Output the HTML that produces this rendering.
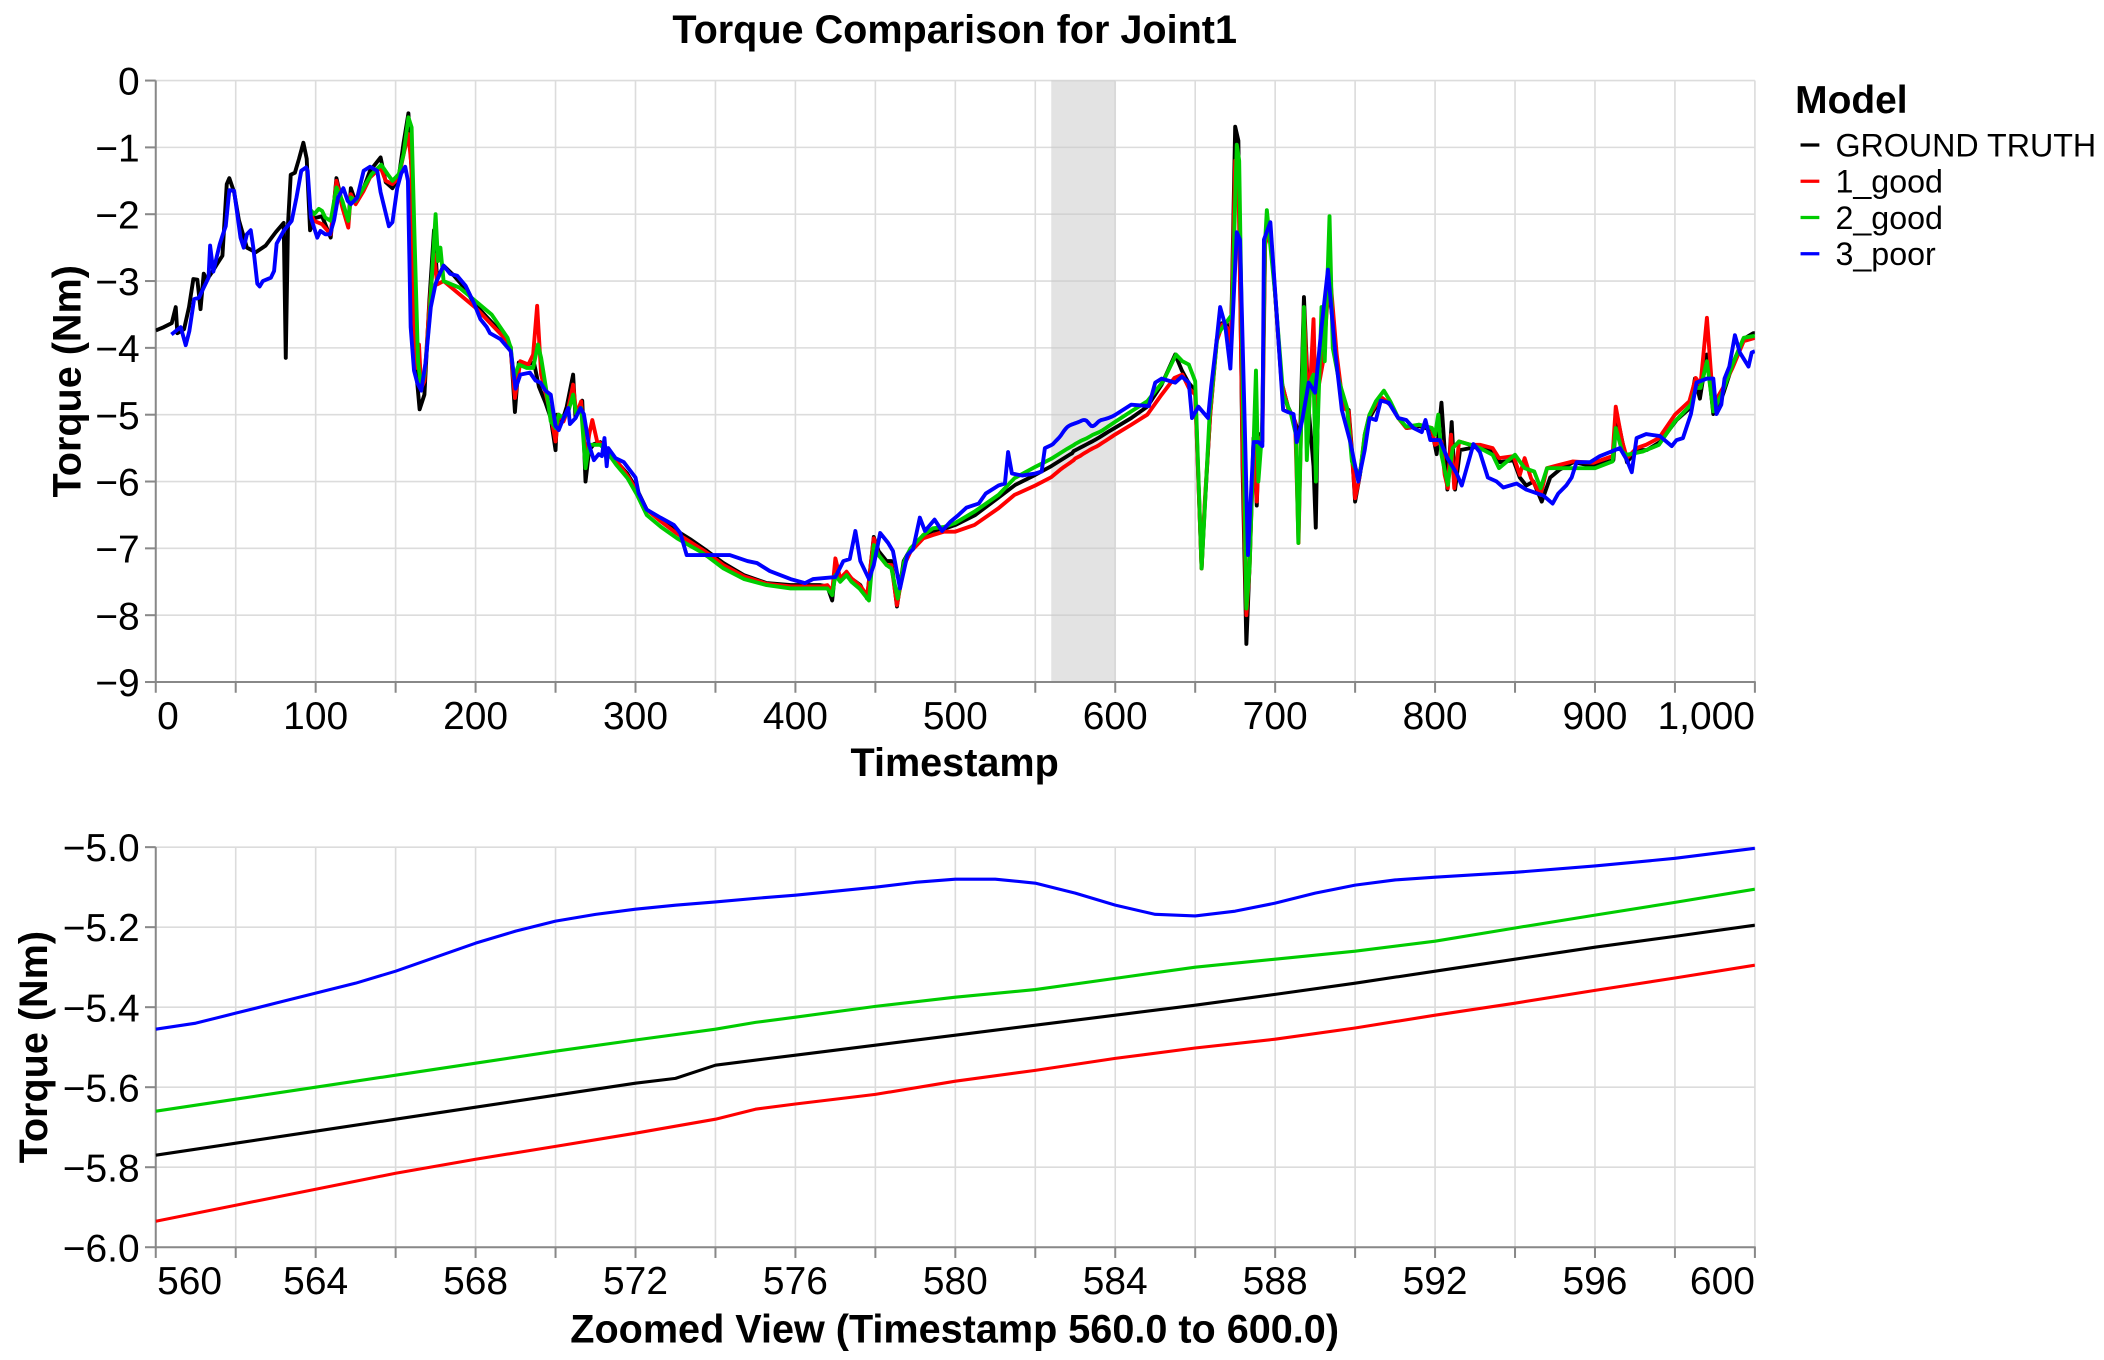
<!DOCTYPE html>
<html>
<head>
<meta charset="utf-8">
<style>
html,body{margin:0;padding:0;background:#fff;}
svg{display:block;font-family:"Liberation Sans",Arial,sans-serif;}
</style>
</head>
<body>
<svg id="chart" width="2104" height="1360" viewBox="0 0 1567 1013" preserveAspectRatio="none" xmlns="http://www.w3.org/2000/svg">
  <rect x="0" y="0" width="1567" height="1013" fill="#fff"/>
  <text x="711" y="32" text-anchor="middle" font-size="29.5" font-weight="bold">Torque Comparison for Joint1</text>
  <g id="main"></g>
  <g id="zoom"></g>
  <text x="711" y="578" text-anchor="middle" font-size="29.5" font-weight="bold">Timestamp</text>
  <text transform="translate(60,284) rotate(-90)" text-anchor="middle" font-size="29.5" font-weight="bold">Torque (Nm)</text>
  <text x="711" y="1000" text-anchor="middle" font-size="29.5" font-weight="bold">Zoomed View (Timestamp 560.0 to 600.0)</text>
  <text transform="translate(35,780) rotate(-90)" text-anchor="middle" font-size="29.5" font-weight="bold">Torque (Nm)</text>
  <g>
    <text x="1337" y="84" font-size="29" font-weight="bold">Model</text>
    <line x1="1341" y1="108" x2="1355" y2="108" stroke="#000" stroke-width="2.5"/>
    <text x="1367" y="116.5" font-size="24">GROUND TRUTH</text>
    <line x1="1341" y1="135" x2="1355" y2="135" stroke="#ff0000" stroke-width="2.5"/>
    <text x="1367" y="143.5" font-size="24">1_good</text>
    <line x1="1341" y1="162" x2="1355" y2="162" stroke="#00cc00" stroke-width="2.5"/>
    <text x="1367" y="170.5" font-size="24">2_good</text>
    <line x1="1341" y1="189" x2="1355" y2="189" stroke="#0000ff" stroke-width="2.5"/>
    <text x="1367" y="197.5" font-size="24">3_poor</text>
  </g>
</svg>
<script>
const seriesNames = ["GROUND TRUTH", "1_good", "2_good", "3_poor"];
const xTickLabelsMain = ["0","100","200","300","400","500","600","700","800","900","1,000"];
const yTickLabelsMain = ["0","\u22121","\u22122","\u22123","\u22124","\u22125","\u22126","\u22127","\u22128","\u22129"];
const xTickLabelsZoom = ["560","564","568","572","576","580","584","588","592","596","600"];
const yTickLabelsZoom = ["\u22125.0","\u22125.2","\u22125.4","\u22125.6","\u22125.8","\u22126.0"];
const highlightRange = [560, 600];

const gtT = [0,5,10,12.5,13.5,17.7,20.8,23.5,26,28,30,32,35.4,38.5,41.7,44.4,46,49,52,57,62.5,68.7,75,80,81.3,82.7,84.4,87,89.6,92.3,94.4,96.5,99,104,109.4,113,116.7,120.4,122,125,130,134,140.6,143.8,148,152,155,158,160,161.5,163.5,165,168,171,174,176,180,186.5,193,199,207,217.7,222,224.6,227,232,236.5,239.6,243.7,247,250,251,254,257,261,262.5,266.7,268.75,271,274,278,282,288.5,294.8,301,307,315.6,326,334,344.8,355,367.7,382,397,415.6,420,423,425,428,432,435.4,440.6,444.8,449,452,457,460,463.5,467.7,472,476,480,486,492.7,500,512.5,527,537.5,550,
560,562,564,566,568,570,572,573,574,576,578,580,582,584,586,588,590,592,594,596,598,600,
610,620,629,637.5,641.7,645.8,650,654,656,659.4,663.5,666.7,669.8,672,673,675,677,679.6,682,684,686.5,688.5,690,691.7,693.75,697,700,704,708,712.5,715.6,718,721,724,725.4,727,730,733,735,738.5,742.7,746,748,750,753,756,759,763,767,772,777,782.3,790,798,801,804,806,807.7,810.4,812.5,815.6,822,828,836.5,840.6,849,853,857,861.5,866.7,872,878,886.5,899,911.5,913.5,917.7,920,926,932.3,940.6,951,959.4,962.5,965.6,970,974,980,986.5,992.7,999,1000];
const gtV = [-3.74,-3.69,-3.63,-3.39,-3.78,-3.72,-3.39,-2.97,-2.98,-3.42,-2.89,-2.98,-2.86,-2.74,-2.62,-1.55,-1.46,-1.67,-2.09,-2.5,-2.57,-2.47,-2.27,-2.13,-4.15,-2.15,-1.41,-1.38,-1.17,-0.93,-1.17,-2.24,-2.06,-2.03,-2.35,-1.46,-1.85,-2.15,-1.61,-1.82,-1.61,-1.35,-1.15,-1.52,-1.61,-1.44,-0.93,-0.49,-1.38,-3.69,-4.52,-4.92,-4.7,-3.33,-2.24,-2.98,-2.77,-2.92,-3.1,-3.33,-3.54,-3.81,-3.99,-4.96,-4.22,-4.25,-4.22,-4.58,-4.82,-5.05,-5.53,-5.0,-5.11,-4.88,-4.4,-5.05,-4.79,-6.0,-5.53,-5.44,-5.41,-5.53,-5.71,-5.88,-6.12,-6.42,-6.57,-6.74,-6.86,-7.04,-7.22,-7.4,-7.52,-7.55,-7.55,-7.57,-7.78,-7.31,-7.49,-7.37,-7.46,-7.55,-7.75,-6.83,-7.04,-7.19,-7.19,-7.87,-7.19,-7.01,-6.92,-6.8,-6.74,-6.71,-6.65,-6.5,-6.24,-6.05,-5.9,
-5.77,-5.74,-5.71,-5.68,-5.65,-5.62,-5.59,-5.578,-5.545,-5.52,-5.495,-5.47,-5.445,-5.42,-5.395,-5.368,-5.34,-5.31,-5.28,-5.25,-5.223,-5.195,
-5.05,-4.88,-4.55,-4.1,-4.34,-4.52,-4.64,-7.3,-6.36,-4.99,-3.87,-3.63,-3.63,-4.22,-3.16,-0.69,-0.9,-5.77,-8.43,-7.25,-5.35,-6.36,-5.29,-5.41,-2.38,-2.21,-3.21,-4.52,-4.88,-5.11,-5.35,-3.24,-4.93,-5.77,-6.69,-4.58,-4.05,-3.1,-3.39,-4.22,-4.88,-4.93,-5.53,-6.3,-5.9,-5.35,-5.05,-4.88,-4.76,-4.85,-5.05,-5.2,-5.17,-5.23,-5.59,-4.82,-5.53,-6.12,-5.11,-6.12,-5.53,-5.5,-5.47,-5.56,-5.71,-5.68,-5.94,-6.06,-6.0,-6.3,-5.94,-5.82,-5.71,-5.77,-5.68,-4.99,-5.47,-5.71,-5.53,-5.53,-5.41,-5.08,-4.9,-4.46,-4.76,-4.1,-4.99,-4.7,-4.22,-3.87,-3.78,-3.78];

const r1T = [97,99,104,109.4,113,116.7,120.4,122,125,130,134,140.6,143.8,148,152,155,158,160,161.5,163,164.6,166,168,171,174,176,180,190,200,210,220,222,224.6,228,233,236,238.5,241,244,247,250,252,255,258,261,263,266,268.75,271,273,276,280,284,290,296,301,307,316,326,334,345,355,368,382,397,416,420,423,425,428,432,435,440,445,449,452,457,460,463.5,468,472,476,480,486,493,500,512,527,537,550,
560,562,564,566,568,570,572,574,575,576,578,580,582,584,586,588,590,592,594,596,598,600,
610,620,629,637,642,646,650,654,656,659.4,663.5,667,670,672,673,675,677,679.6,682,684,686.5,688.5,690,692,693.75,697,700,704,708,712.5,714.6,716,718,721,724,726,727,730,733,735,738.5,742.7,746,748,750,753,756,759,763,767,772,777,782,790,798,800,804,806,808,810,812,815,822,828,836,840,849,853,856,860,866,870,878,886,899,911,913,917,920,926,932,940,950,959,963,966,970,974,980,986,993,1000];
const r1V = [-2.0,-2.1,-2.15,-2.3,-1.5,-1.9,-2.2,-1.7,-1.85,-1.65,-1.45,-1.3,-1.5,-1.55,-1.45,-1.1,-0.8,-1.3,-3.5,-4.3,-3.95,-4.6,-4.5,-3.4,-2.6,-3.05,-3.0,-3.2,-3.4,-3.65,-3.9,-4.05,-4.75,-4.2,-4.25,-4.1,-3.37,-4.4,-4.7,-5.0,-5.4,-5.0,-5.1,-4.9,-4.55,-5.0,-4.8,-5.7,-5.3,-5.08,-5.4,-5.45,-5.6,-5.75,-5.95,-6.15,-6.42,-6.6,-6.78,-6.9,-7.07,-7.25,-7.42,-7.53,-7.57,-7.57,-7.55,-7.65,-7.15,-7.45,-7.35,-7.45,-7.55,-7.7,-6.85,-7.1,-7.25,-7.25,-7.85,-7.25,-7.05,-6.95,-6.85,-6.8,-6.75,-6.75,-6.65,-6.4,-6.2,-6.06,
-5.935,-5.895,-5.855,-5.815,-5.78,-5.748,-5.715,-5.68,-5.655,-5.642,-5.618,-5.585,-5.558,-5.528,-5.502,-5.48,-5.452,-5.42,-5.39,-5.358,-5.327,-5.295,
-5.15,-5.0,-4.7,-4.45,-4.4,-4.6,-4.7,-7.3,-6.3,-5.0,-3.9,-3.65,-3.7,-4.2,-3.3,-1.2,-1.4,-5.5,-8.0,-7.3,-5.4,-6.3,-5.35,-5.4,-2.45,-2.2,-3.2,-4.5,-4.9,-5.1,-6.92,-5.4,-3.4,-5.0,-3.57,-5.5,-4.6,-4.2,-3.2,-3.1,-4.1,-4.9,-4.95,-5.6,-6.25,-5.9,-5.3,-5.0,-4.85,-4.75,-4.85,-5.05,-5.2,-5.15,-5.2,-5.45,-5.4,-5.9,-6.1,-5.3,-6.1,-5.4,-5.45,-5.45,-5.5,-5.65,-5.62,-5.9,-5.65,-5.95,-6.2,-5.8,-5.75,-5.7,-5.72,-5.62,-4.88,-5.4,-5.65,-5.5,-5.45,-5.35,-5.0,-4.8,-4.45,-4.55,-3.55,-4.85,-4.6,-4.3,-3.9,-3.85];

const g2T = [97,99,102,104,106,109.4,113,116.7,120.4,122,125,130,135,141,145,148,152,155,158,160,162,164,166,168,171,175,176.5,178,180,190,200,210,220,222,224,227,232,236,239,241,244,247,250,252,255,258,261,263,266,268.75,271,274,278,282,288,295,301,307,316,326,334,340,345,355,368,382,397,416,420,423,425,428,432,435,440,446,449,452,457,460,464,468,472,476,480,486,493,500,512,527,537,550,
560,562,564,566,568,570,572,574,575,576,578,580,582,584,586,588,590,592,594,596,598,600,
610,620,630,638,642,646,650,654,656,659,664,670,673,676,677.5,680,682,684,688,689.5,692,693.5,694.8,700,705,710,713,714.5,716,718,719.8,722,724,725.5,729,731,734,736,740,745,748,750,753,756,759,763,768,772,777,782,790,798,800,802,804,808,811,815,822,828,836,840,850,856,862,866,870,880,900,911,913,917,920,930,940,950,960,963,966,970,974,980,986,993,1000];
const g2V = [-1.94,-2.0,-1.92,-1.95,-2.05,-2.1,-1.6,-1.8,-2.1,-1.75,-1.8,-1.6,-1.4,-1.26,-1.4,-1.5,-1.4,-1.1,-0.55,-0.7,-2.5,-4.2,-4.6,-4.4,-3.6,-2.0,-2.7,-2.5,-3.0,-3.1,-3.3,-3.5,-3.85,-4.0,-4.45,-4.25,-4.3,-4.3,-3.95,-4.15,-4.6,-5.1,-5.2,-5.0,-5.05,-4.95,-4.7,-5.0,-4.9,-5.8,-5.45,-5.45,-5.45,-5.55,-5.75,-5.95,-6.2,-6.5,-6.68,-6.85,-6.96,-7.04,-7.12,-7.3,-7.46,-7.55,-7.6,-7.6,-7.6,-7.7,-7.4,-7.5,-7.4,-7.5,-7.6,-7.78,-6.95,-7.1,-7.25,-7.3,-7.75,-7.2,-7.0,-6.9,-6.8,-6.7,-6.68,-6.62,-6.45,-6.2,-5.95,-5.78,
-5.66,-5.63,-5.6,-5.57,-5.54,-5.51,-5.482,-5.455,-5.438,-5.425,-5.398,-5.375,-5.356,-5.328,-5.3,-5.28,-5.26,-5.235,-5.202,-5.17,-5.138,-5.105,
-4.95,-4.8,-4.5,-4.1,-4.2,-4.25,-4.5,-7.3,-6.4,-5.0,-3.8,-3.6,-3.5,-0.96,-1.2,-5.0,-7.9,-7.3,-4.34,-6.0,-5.2,-2.5,-1.94,-3.2,-4.7,-5.0,-5.3,-6.92,-5.4,-3.39,-5.68,-4.5,-4.4,-6.0,-3.39,-4.2,-2.03,-4.0,-4.5,-4.9,-5.7,-5.8,-5.9,-5.3,-5.0,-4.8,-4.64,-4.8,-5.05,-5.18,-5.15,-5.2,-5.3,-5.0,-5.6,-6.05,-5.5,-5.4,-5.45,-5.5,-5.6,-5.8,-5.6,-5.8,-5.85,-6.1,-5.8,-5.8,-5.8,-5.7,-5.2,-5.55,-5.6,-5.55,-5.45,-5.1,-4.85,-4.6,-4.6,-4.2,-4.95,-4.65,-4.25,-3.85,-3.82];

const b3T = [9.8,15.6,18.75,21,24,27,30,33,34,36,38,40,42,43.75,46,49,53,55,57,59.4,61,63.5,65,67,72,74,75.6,80,85,88,91,94,95,97,101,103,106,109,111.5,114,117.3,120,122,126,130,134,138.5,140.6,145.8,148,151,153.5,156,157.7,159.4,161.5,163.5,166,168.75,172,175,177,180,184,188.5,193.75,199,203,207,209,215.6,222,225,228,234,237.5,240.6,243.7,247,250,252,255,258,259,262.5,265.6,267.7,270.8,274,277,279,280.6,282,283,287.5,292.7,300,302,307,315.6,324,328,332,340.6,359,370,376,384,397,406,411,425,430,434,437.5,440.6,446,449,453,458,461,465.4,470,473.6,477.8,481,487,491.7,497,502,507,514.6,519,527,531,533,535.4,541.7,550,554,556,
560,561,562,563,564,565,566,567,568,569,570,571,572,573,574,575,576,577,578,579,580,581,582,583,584,585,586,587,588,589,590,591,592,594,596,598,600,
610,621,625,629,637.5,641.7,646,648,652,658,660,663.5,665.6,668.75,672,676,678,681,683,686.5,689.6,692,693,697,701,705,708,711.5,713.5,716.7,721,725,729,733,737.5,741.7,747,752,756,759,763,766,771,777,782,786.5,791.7,794,797,803,807.7,813.5,816.7,824,828,833,838.5,842.7,851,857,867.7,873.5,877,882,885.4,888.5,897,903,915.6,920,923,926,932,940.6,948,951,955,960,963.5,970,974,976,979,981,984,987.5,990.6,996,998,1000];
const b3V = [-3.8,-3.69,-3.96,-3.75,-3.27,-3.25,-3.1,-2.95,-2.47,-2.86,-2.65,-2.45,-2.3,-2.18,-1.64,-1.65,-2.35,-2.5,-2.3,-2.24,-2.5,-3.04,-3.08,-3.0,-2.95,-2.85,-2.44,-2.25,-2.1,-1.75,-1.35,-1.3,-1.35,-2.05,-2.35,-2.25,-2.3,-2.3,-2.09,-1.75,-1.61,-1.8,-1.85,-1.75,-1.35,-1.29,-1.35,-1.67,-2.18,-2.12,-1.61,-1.39,-1.29,-1.5,-3.69,-4.34,-4.52,-4.64,-4.22,-3.39,-3.04,-2.92,-2.77,-2.89,-2.92,-3.07,-3.33,-3.57,-3.69,-3.78,-3.87,-4.05,-4.61,-4.4,-4.37,-4.49,-4.52,-4.64,-4.7,-5.17,-5.23,-5.05,-4.9,-5.14,-5.05,-4.9,-4.99,-5.44,-5.68,-5.59,-5.62,-5.35,-5.77,-5.5,-5.65,-5.71,-5.94,-6.18,-6.42,-6.54,-6.65,-6.77,-7.1,-7.1,-7.1,-7.19,-7.22,-7.34,-7.46,-7.52,-7.46,-7.43,-7.19,-7.16,-6.74,-7.19,-7.46,-7.25,-6.77,-6.92,-7.04,-7.6,-7.1,-7.01,-6.54,-6.74,-6.57,-6.74,-6.6,-6.5,-6.39,-6.33,-6.18,-6.06,-6.03,-5.56,-5.88,-5.91,-5.88,-5.85,-5.5,
-5.455,-5.44,-5.415,-5.39,-5.365,-5.34,-5.31,-5.275,-5.24,-5.21,-5.185,-5.168,-5.155,-5.145,-5.137,-5.128,-5.12,-5.11,-5.1,-5.088,-5.08,-5.08,-5.09,-5.115,-5.145,-5.168,-5.172,-5.16,-5.14,-5.115,-5.095,-5.082,-5.075,-5.063,-5.047,-5.028,-5.003,
-4.85,-4.87,-4.52,-4.46,-4.52,-4.43,-4.52,-5.05,-4.88,-5.05,-4.58,-3.87,-3.39,-3.66,-4.31,-2.27,-2.38,-5.17,-7.1,-5.41,-5.41,-5.47,-2.38,-2.12,-3.51,-4.93,-4.96,-4.99,-5.41,-5.11,-4.52,-4.67,-3.69,-2.83,-4.05,-4.93,-5.41,-6.0,-5.53,-5.05,-5.08,-4.79,-4.82,-5.05,-5.08,-5.2,-5.26,-5.08,-5.38,-5.38,-5.65,-5.88,-6.06,-5.44,-5.56,-5.94,-6.0,-6.09,-6.03,-6.12,-6.21,-6.33,-6.18,-6.06,-5.94,-5.71,-5.71,-5.62,-5.5,-5.68,-5.86,-5.35,-5.29,-5.32,-5.47,-5.38,-5.35,-4.99,-4.52,-4.46,-4.46,-4.99,-4.85,-4.46,-4.28,-3.81,-4.07,-4.28,-4.07,-4.05];

const NS = "http://www.w3.org/2000/svg";
const colors = ["#000000", "#ff0000", "#00cc00", "#0000ff"];
const seriesT = [gtT, r1T, g2T, b3T];
const seriesV = [gtV, r1V, g2V, b3V];
const seriesKeys = ["ground-truth", "1-good", "2-good", "3-poor"];

function mk(tag, attrs, parent) {
  const e = document.createElementNS(NS, tag);
  for (const k in attrs) e.setAttribute(k, attrs[k]);
  parent.appendChild(e);
  return e;
}

function drawPanel(g, cfg) {
  const sx = t => cfg.L + (t - cfg.x0) / (cfg.x1 - cfg.x0) * (cfg.R - cfg.L);
  const sy = v => cfg.T + (cfg.y1 - v) / (cfg.y1 - cfg.y0) * (cfg.B - cfg.T);
  for (let t = cfg.x0; t <= cfg.x1 + 1e-9; t += cfg.xStep) {
    const gl = mk("line", {x1: sx(t), x2: sx(t), y1: cfg.T, y2: cfg.B, stroke: "#dcdcdc", "stroke-width": 1.2}, g);
    
    
  }
  for (let i = 0; i < cfg.yLabels.length; i++) {
    const v = cfg.y1 - i * cfg.yStep;
    const gl = mk("line", {x1: cfg.L, x2: cfg.R, y1: sy(v), y2: sy(v), stroke: "#dcdcdc", "stroke-width": 1.2}, g);
    
    
  }
  if (cfg.band) {
    const b = mk("rect", {x: sx(cfg.band[0]), y: cfg.T, width: sx(cfg.band[1]) - sx(cfg.band[0]), height: cfg.B - cfg.T, fill: "#c8c8c8", "fill-opacity": 0.5}, g);
    
    
  }
  const ax = mk("line", {x1: cfg.L, x2: cfg.R + 0.6, y1: cfg.B, y2: cfg.B, stroke: "#888", "stroke-width": 1.5}, g);
  
  
  const ay = mk("line", {x1: cfg.L, x2: cfg.L, y1: cfg.T, y2: cfg.B, stroke: "#888", "stroke-width": 1.5}, g);
  
  
  let li = 0, k = 0;
  for (let t = cfg.x0; t <= cfg.x1 + 1e-9; t += cfg.xStep, k++) {
    const tk = mk("line", {x1: sx(t), x2: sx(t), y1: cfg.B, y2: cfg.B + 8, stroke: "#888", "stroke-width": 1.5}, g);
    
    
    if (k % cfg.labelEvery === 0) {
      const anchor = li === 0 ? "start" : (li === cfg.xLabels.length - 1 ? "end" : "middle");
      const xx = li === 0 ? sx(t) + 1 : sx(t);
      const tl = mk("text", {x: xx, y: cfg.B + 35, "text-anchor": anchor, "font-size": 29}, g);
      tl.textContent = cfg.xLabels[li];
      
      
      li++;
    }
  }
  for (let i = 0; i < cfg.yLabels.length; i++) {
    const v = cfg.y1 - i * cfg.yStep;
    const tk = mk("line", {x1: cfg.L - 8, x2: cfg.L, y1: sy(v), y2: sy(v), stroke: "#888", "stroke-width": 1.5}, g);
    
    
    const tl = mk("text", {x: cfg.L - 12, y: sy(v) + 10.5, "text-anchor": "end", "font-size": 29}, g);
    tl.textContent = cfg.yLabels[i];
    
    
  }
  const cid = "clip-" + cfg.id;
  const cp = mk("clipPath", {id: cid}, g);
  mk("rect", {x: cfg.L, y: cfg.T - 3, width: cfg.R - cfg.L, height: cfg.B - cfg.T + 6}, cp);
  for (let s = 0; s < seriesT.length; s++) {
    const T = seriesT[s], V = seriesV[s];
    let d = "";
    for (let i = 0; i < T.length; i++) {
      if (T[i] < cfg.x0 - 1e-9 || T[i] > cfg.x1 + 1e-9) continue;
      d += (d ? "L" : "M") + sx(T[i]).toFixed(2) + "," + sy(V[i]).toFixed(2);
    }
    const p = mk("path", {d: d, fill: "none", stroke: colors[s], "stroke-width": cfg.lw, "stroke-linejoin": "round", "clip-path": "url(#" + cid + ")"}, g);
    
    
  }
}

drawPanel(document.getElementById("main"), {
  id: "main", L: 116, R: 1307, T: 60, B: 508, x0: 0, x1: 1000, y0: -9, y1: 0,
  xStep: 50, labelEvery: 2, xLabels: xTickLabelsMain, yLabels: yTickLabelsMain, yStep: 1,
  band: highlightRange, lw: 2.9
});
drawPanel(document.getElementById("zoom"), {
  id: "zoom", L: 116, R: 1307, T: 631, B: 929, x0: highlightRange[0], x1: highlightRange[1], y0: -6, y1: -5,
  xStep: 2, labelEvery: 2, xLabels: xTickLabelsZoom, yLabels: yTickLabelsZoom, yStep: 0.2,
  band: null, lw: 2.3
});
</script>
</body>
</html>
